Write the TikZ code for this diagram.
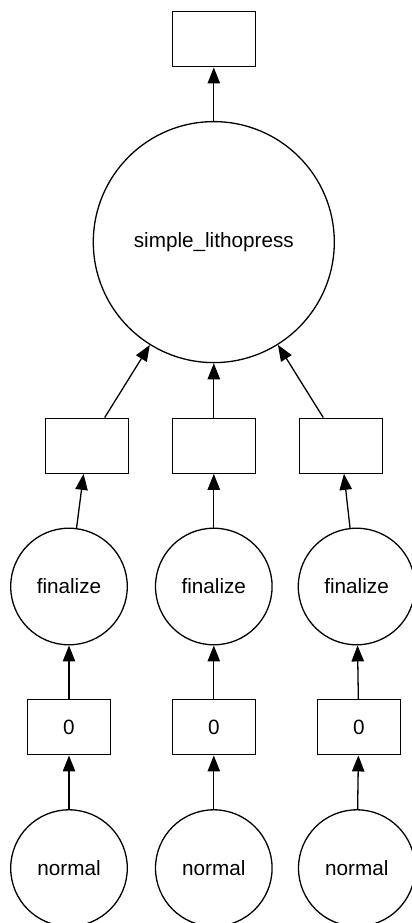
\documentclass[tikz,border=0pt]{standalone}
\usepackage{fontspec}
\setmainfont{Liberation Sans}
\usetikzlibrary{arrows.meta}

\begin{document}
\begin{tikzpicture}[node distance={70.4pt}, line width=0.65pt, >={Triangle[length=8pt,width=6.2pt]},
    task/.style = {draw, circle, inner sep=0pt, minimum size=58.3pt, font=\fontsize{10.35}{12}\selectfont},
    data/.style = {draw, rectangle, inner sep=0pt, minimum width=41.5pt, minimum height=27.5pt, font=\fontsize{10.35}{12}\selectfont}]
            \useasboundingbox (-106.9pt,19.65pt) rectangle (99.1pt,-441.85pt);
            \node[data] (out) {};
            \node[task, minimum size=120.5pt] (press) [below of=out, node distance=101.4pt] {simple\_lithopress};
            \node[data] (m2) [below of=press, node distance=101.8pt] {};
            \node[data] (m1) [left of=m2, node distance=63.3pt] {};
            \node[data] (m3) [right of=m2, node distance=63.5pt] {};
            \node[task] (f2) [below of=m2] {finalize};
            \node[task] (f1) [left of=f2, node distance=72.4pt] {finalize};
            \node[task] (f3) [right of=f2, node distance=71.4pt] {finalize};
            \node[data] (z2) [below of=f2] {0};
            \node[data] (z1) [left of=z2, node distance=72.4pt] {0};
            \node[data] (z3) [right of=z2, node distance=72.5pt] {0};
            \node[task] (n2) [below of=z2] {normal};
            \node[task] (n1) [left of=n2, node distance=72.4pt] {normal};
            \node[task] (n3) [right of=n2, node distance=71.5pt] {normal};
            \draw[->] (press) -- (out);
            \foreach \i in {1,2,3} {
                \draw[->] (n\i) -- (z\i);
                \draw[->] (z\i) -- (f\i);
                \draw[->] (f\i) -- (m\i);
                \draw[->] (m\i) -- (press);
            }
        \end{tikzpicture}
\end{document}
